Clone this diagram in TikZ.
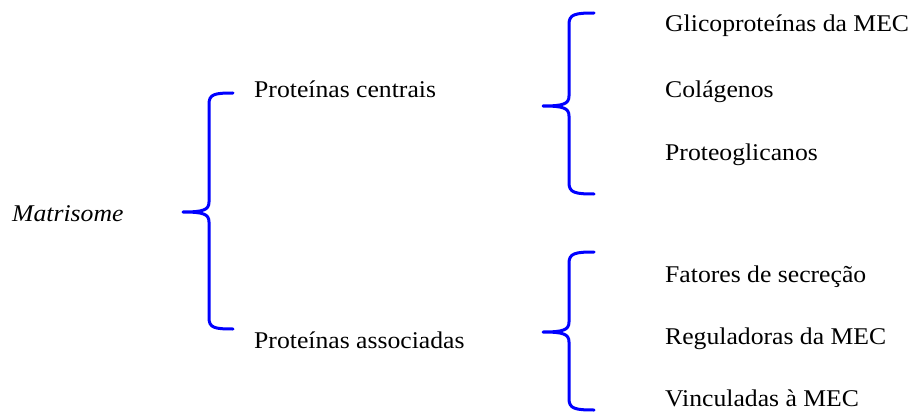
\documentclass[tikz,border=0pt]{standalone}
\usepackage{fontspec}
\setmainfont[FakeStretch=1.07]{Liberation Serif}
\begin{document}
\begin{tikzpicture}[x=1pt,y=-1pt,
  lbl/.style={anchor=base west,inner sep=0pt,font=\fontsize{24}{28}\selectfont},
  bracestyle/.style={draw=blue,line width=3pt,line cap=round,line join=round}]
\useasboundingbox (0,0) rectangle (911,412);
% texts
\node[lbl,font=\fontsize{24}{28}\selectfont\itshape] (mat) at (12,221) {Matrisome};
\node[lbl] (pc) at (254,98) {Proteínas centrais};
\node[lbl] (pa) at (254,348) {Proteínas associadas};
\node[lbl] (g) at (665,32) {Glicoproteínas da MEC};
\node[lbl] (c) at (665,98) {Colágenos};
\node[lbl] (p) at (665,160) {Proteoglicanos};
\node[lbl] (f) at (665,282) {Fatores de secreção};
\node[lbl] (r) at (665,344) {Reguladoras da MEC};
\node[lbl] (v) at (665,406) {Vinculadas à MEC};
% braces
\path[bracestyle] (233,93) .. controls (215,93) and (209,94) .. (209,104) -- (209,202)
  .. controls (209,210) and (203,212) .. (183,212)
  .. controls (203,212) and (209,214) .. (209,222) -- (209,318)
  .. controls (209,328) and (215,329) .. (233,329);
\path[bracestyle] (594,13) .. controls (576,13) and (569,14) .. (569,24) -- (569,96)
  .. controls (569,104) and (563,106) .. (543,106)
  .. controls (563,106) and (569,108) .. (569,116) -- (569,183)
  .. controls (569,193) and (576,194) .. (594,194);
\path[bracestyle] (594,252) .. controls (576,252) and (569,253) .. (569,263) -- (569,322)
  .. controls (569,330) and (563,332) .. (543,332)
  .. controls (563,332) and (569,334) .. (569,342) -- (569,399)
  .. controls (569,409) and (576,410) .. (594,410);
\end{tikzpicture}
\end{document}
